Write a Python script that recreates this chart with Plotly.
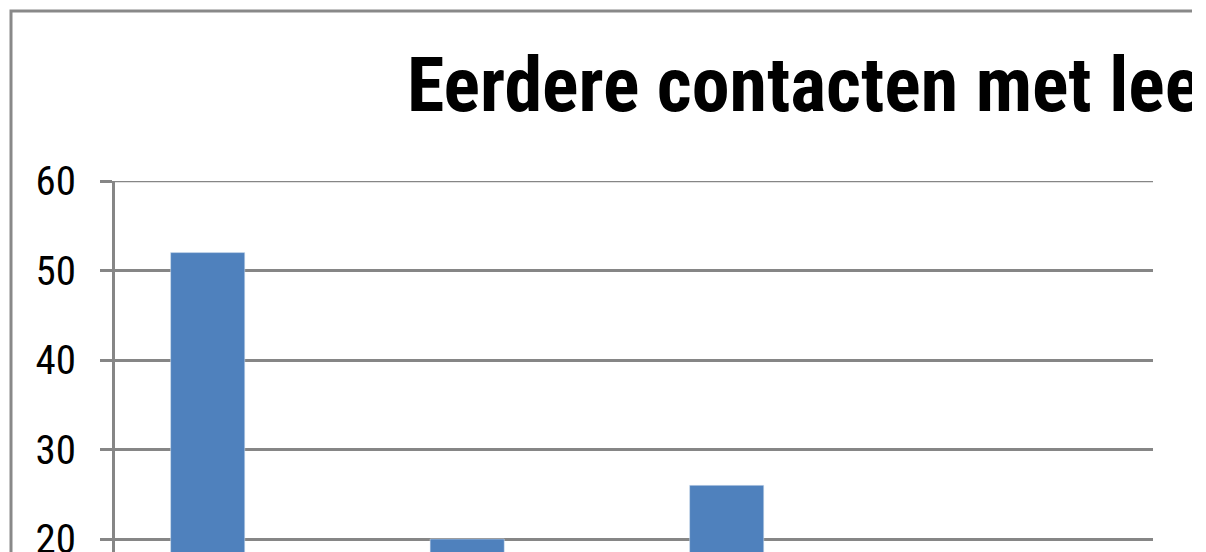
import plotly.graph_objects as go

categories = ["Nooit", "1 keer", "2-5 keer", "Meer dan 5 keer"]
series1_name = "Leerlingen"
series1_values = [52, 20, 26, 12]
series2_name = "Ouders"
series2_values = [10, 6, 8, 4]
y_ticks = [0, 10, 20, 30, 40, 50, 60]

FONT = "Roboto Condensed, DejaVu Sans Condensed, sans-serif"
W, H = 1192, 552
ML, MR, MT, MB = 115, W - 1153, 181, 0
PW, PH = W - ML - MR, H - MT - MB

fig = go.Figure()
fig.add_trace(go.Bar(x=categories, y=series1_values, name=series1_name,
                     marker=dict(color="#4F81BD", line=dict(color="#DCE6F2", width=0.5))))
fig.add_trace(go.Bar(x=categories, y=series2_values, name=series2_name,
                     marker=dict(color="#C0504D", line=dict(color="#F2DCDB", width=0.5))))

fig.update_layout(
    width=W, height=H,
    margin=dict(l=ML, r=MR, t=MT, b=MB, pad=0, autoexpand=False),
    paper_bgcolor="white", plot_bgcolor="white",
    barmode="group", bargap=1.5 / 3.5, bargroupgap=0,
    showlegend=False,
    font=dict(family=FONT, color="black"),
)
fig.update_yaxes(
    range=[18.55, 60], tickvals=y_ticks, showgrid=True, gridcolor="#868686", gridwidth=2.5,
    showline=True, linecolor="#868686", linewidth=2.5,
    ticks="outside", ticklen=12, tickcolor="#868686", tickwidth=2.5,
    tickfont=dict(size=41, family=FONT, color="black"),
    ticklabelstandoff=16, ticklabeloverflow="allow", zeroline=False, automargin=False,
)
fig.update_xaxes(showgrid=False, showline=False, showticklabels=False, ticks="", automargin=False)

# gridline at the top tick (plotly drops gridlines at the range end)
fig.add_shape(type="line", xref="paper", yref="y", x0=0, x1=1, y0=y_ticks[-1], y1=y_ticks[-1],
              line=dict(color="#868686", width=2.5), layer="below")

fig.add_annotation(
    text="<b>Eerdere contacten met leerlingen</b>", xref="paper", yref="paper",
    x=(405 - ML) / PW, y=1 + (MT - 85) / PH,
    xanchor="left", yanchor="middle", showarrow=False,
    font=dict(size=76, family=FONT, color="black"),
)
fig.add_shape(
    type="rect", xref="paper", yref="paper",
    x0=(11 - ML) / PW, x1=(W + 20 - ML) / PW,
    y0=-0.2, y1=1 + (MT - 11) / PH,
    line=dict(color="#898989", width=3), fillcolor="rgba(0,0,0,0)", layer="above",
)

fig.write_html("out.html", config={"displayModeBar": False},
               post_script="document.body.style.margin='0';document.body.style.overflow='hidden';")
